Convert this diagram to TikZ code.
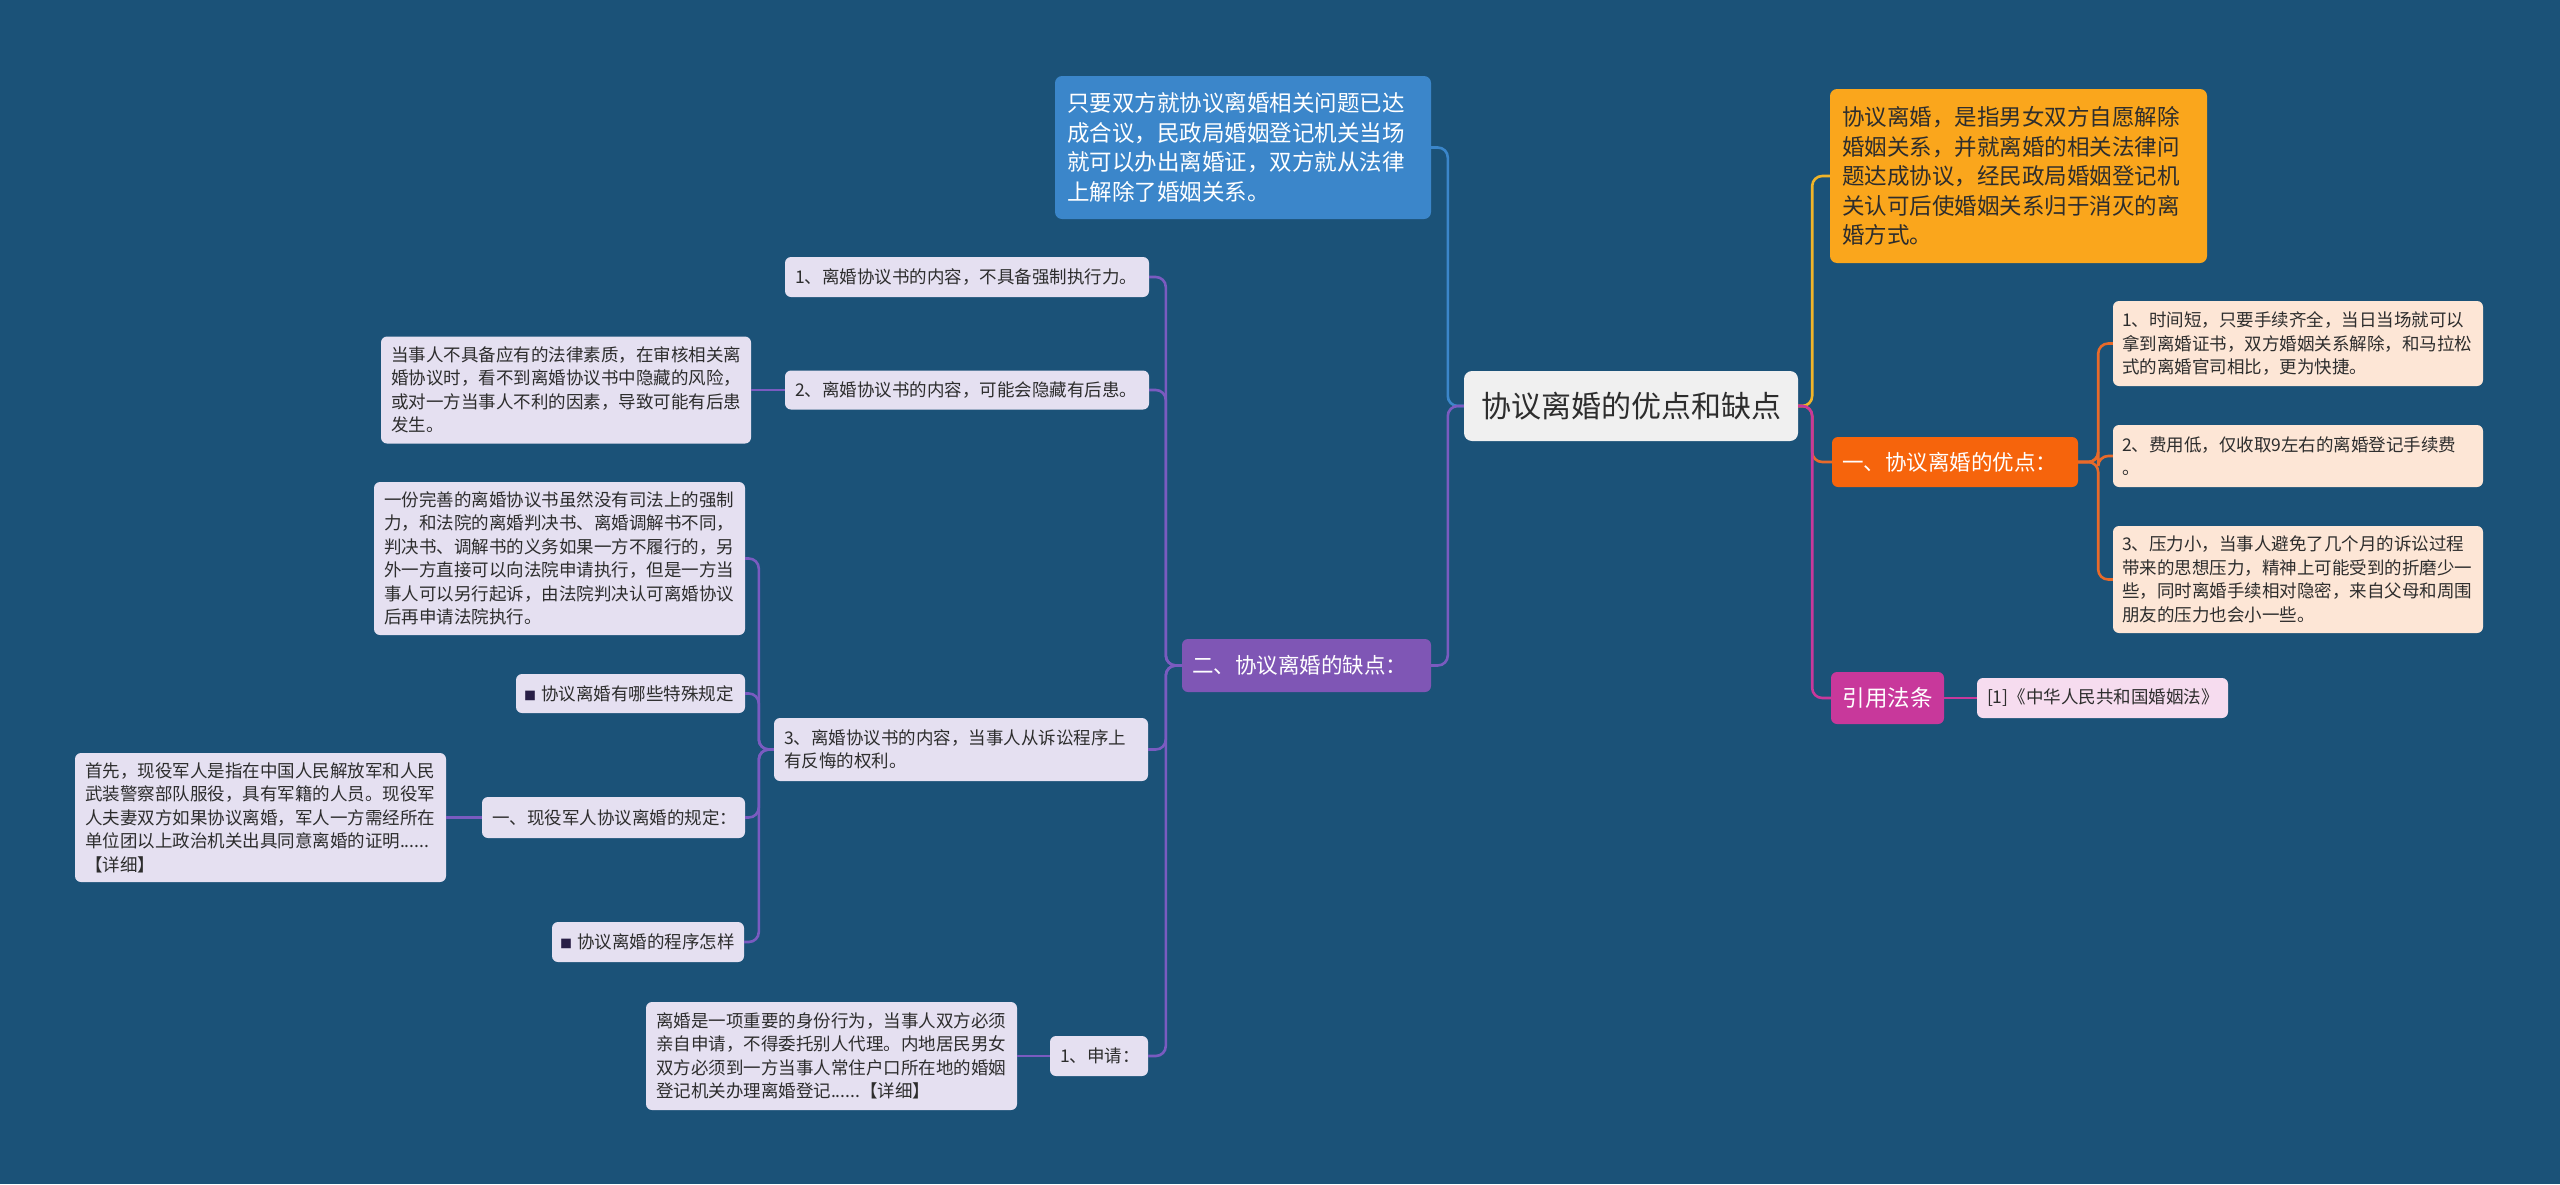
\documentclass[tikz,border=0pt]{standalone}
\usepackage{fontspec}
\setmainfont{Noto Sans CJK SC}
\definecolor{bg}{RGB}{27,82,120}
\definecolor{bluebox}{RGB}{59,134,202}
\definecolor{orangebox}{RGB}{250,166,28}
\definecolor{advbox}{RGB}{246,100,12}
\definecolor{peach}{RGB}{253,230,214}
\definecolor{magbox}{RGB}{200,56,155}
\definecolor{pinkbox}{RGB}{246,220,239}
\definecolor{purbox}{RGB}{127,86,181}
\definecolor{lavbox}{RGB}{229,224,241}
\definecolor{rootbox}{RGB}{240,240,240}
\definecolor{darktext}{RGB}{45,45,45}
\definecolor{lblue}{RGB}{59,134,202}
\definecolor{lyellow}{RGB}{240,180,41}
\definecolor{lorange}{RGB}{232,106,42}
\definecolor{lmag}{RGB}{200,56,155}
\definecolor{lpur}{RGB}{122,91,192}
\definecolor{sq}{RGB}{40,30,70}
\begin{document}
\begin{tikzpicture}[x=1pt,y=-1pt,
  box/.style={rounded corners=6pt, inner xsep=10pt, inner ysep=0pt, align=left, anchor=center},
  bigbox/.style={box, rounded corners=7pt, inner xsep=12pt, font=\fontsize{22.5pt}{29.5pt}\selectfont},
  small/.style={font=\fontsize{17.5pt}{23.5pt}\selectfont},
  lav/.style={box, small, fill=lavbox, text=darktext},
  pea/.style={box, small, fill=peach, text=darktext},
  cat/.style={box, rounded corners=6pt, text=white, font=\fontsize{21.5pt}{26pt}\selectfont},
  conn/.style={line width=2.6pt, rounded corners=10pt}
]
\fill[bg] (0,0) rectangle (2560,1184);
\useasboundingbox (0,0) rectangle (2560,1184);

% root
\node[box, fill=rootbox, text=darktext, rounded corners=8pt, inner xsep=16pt, align=center,
  minimum width=334pt, minimum height=70pt, font=\fontsize{30pt}{36pt}\selectfont] (root) at (1631,406) {协议离婚的优点和缺点};

% top blue
\node[bigbox, fill=bluebox, text=white, text width=352pt, minimum height=143pt] (top) at (1243,147.5)
 {只要双方就协议离婚相关问题已达\\成合议，民政局婚姻登记机关当场\\就可以办出离婚证，双方就从法律\\上解除了婚姻关系。};

% definition orange
\node[bigbox, fill=orangebox, text=darktext, text width=353pt, minimum height=174pt] (def) at (2018.5,176)
 {协议离婚，是指男女双方自愿解除\\婚姻关系，并就离婚的相关法律问\\题达成协议，经民政局婚姻登记机\\关认可后使婚姻关系归于消灭的离\\婚方式。};

% advantages
\node[cat, fill=advbox, text width=226pt, minimum height=50pt] (adv) at (1955,462) {一、协议离婚的优点：};
\node[pea, text width=352pt, minimum height=85pt, inner xsep=9pt] (a1) at (2298,343.5)
 {1、时间短，只要手续齐全，当日当场就可以\\拿到离婚证书，双方婚姻关系解除，和马拉松\\式的离婚官司相比，更为快捷。};
\node[pea, text width=352pt, minimum height=62pt, inner xsep=9pt] (a2) at (2298,456)
 {2、费用低，仅收取9左右的离婚登记手续费\\。};
\node[pea, text width=352pt, minimum height=107pt, inner xsep=9pt] (a3) at (2298,579.5)
 {3、压力小，当事人避免了几个月的诉讼过程\\带来的思想压力，精神上可能受到的折磨少一\\些，同时离婚手续相对隐密，来自父母和周围\\朋友的压力也会小一些。};

% citation
\node[cat, fill=magbox, align=center, inner xsep=11pt, minimum width=113pt, minimum height=52pt, font=\fontsize{22.5pt}{26pt}\selectfont] (cite) at (1887.5,698) {引用法条};
\node[box, small, fill=pinkbox, text=darktext, text width=231pt, minimum height=40pt] (law) at (2102.5,698) {[1]《中华人民共和国婚姻法》};

% disadvantages
\node[cat, fill=purbox, text width=229pt, minimum height=53pt] (er) at (1306.5,665.5) {二、协议离婚的缺点：};
\node[lav, text width=344pt, minimum height=40pt] (d1) at (967,277) {1、离婚协议书的内容，不具备强制执行力。};
\node[lav, text width=344pt, minimum height=39pt] (d2) at (967,390) {2、离婚协议书的内容，可能会隐藏有后患。};
\node[lav, text width=350pt, minimum height=107pt] (d2c) at (566,390)
 {当事人不具备应有的法律素质，在审核相关离\\婚协议时，看不到离婚协议书中隐藏的风险，\\或对一方当事人不利的因素，导致可能有后患\\发生。};
\node[lav, text width=354pt, minimum height=63pt] (d3) at (961,749.5)
 {3、离婚协议书的内容，当事人从诉讼程序上\\有反悔的权利。};
\node[lav, text width=351pt, minimum height=153pt] (d3a) at (559.5,558.5)
 {一份完善的离婚协议书虽然没有司法上的强制\\力，和法院的离婚判决书、离婚调解书不同，\\判决书、调解书的义务如果一方不履行的，另\\外一方直接可以向法院申请执行，但是一方当\\事人可以另行起诉，由法院判决认可离婚协议\\后再申请法院执行。};
\node[lav, text width=213pt, inner xsep=8pt, minimum height=39pt] (d3b) at (630.5,693.5)
 {\mbox{{\color{sq}\fontsize{12pt}{12pt}\selectfont ■}\hspace{5pt}协议离婚有哪些特殊规定}};
\node[lav, text width=243pt, minimum height=41pt] (d3c) at (613.5,817.5) {一、现役军人协议离婚的规定：};
\node[lav, text width=351pt, minimum height=129pt] (d3c1) at (260.5,817.5)
 {首先，现役军人是指在中国人民解放军和人民\\武装警察部队服役，具有军籍的人员。现役军\\人夫妻双方如果协议离婚，军人一方需经所在\\单位团以上政治机关出具同意离婚的证明......\\【详细】};
\node[lav, text width=176pt, inner xsep=8pt, minimum height=40pt] (d3d) at (648,942)
 {\mbox{{\color{sq}\fontsize{12pt}{12pt}\selectfont ■}\hspace{5pt}协议离婚的程序怎样}};
\node[lav, text width=78pt, minimum height=40pt] (d4) at (1099,1056) {1、申请：};
\node[lav, text width=351pt, minimum height=108pt] (d4c) at (831.5,1056)
 {离婚是一项重要的身份行为，当事人双方必须\\亲自申请，不得委托别人代理。内地居民男女\\双方必须到一方当事人常住户口所在地的婚姻\\登记机关办理离婚登记......【详细】};

% connectors: root left
\draw[conn, lblue] (root.west) -- ++(-16,0) |- (top.east);
\draw[conn, lpur] (root.west) -- ++(-16,0) |- (er.east);
% root right
\draw[conn, lyellow] (root.east) -- ++(14,0) |- (def.west);
\draw[conn, lorange] (root.east) -- ++(14,0) |- (adv.west);
\draw[conn, lmag] (root.east) -- ++(14,0) |- (cite.west);
% advantages
\draw[conn, lorange] (adv.east) -- ++(20,0) |- (a1.west);
\draw[conn, lorange] (adv.east) -- ++(20,0) |- (a2.west);
\draw[conn, lorange] (adv.east) -- ++(20,0) |- (a3.west);
% citation
\draw[conn, lmag] (cite.east) -- (law.west);
% disadvantages
\draw[conn, lpur] (er.west) -- ++(-16,0) |- (d1.east);
\draw[conn, lpur] (er.west) -- ++(-16,0) |- (d2.east);
\draw[conn, lpur] (er.west) -- ++(-16,0) |- (d3.east);
\draw[conn, lpur] (er.west) -- ++(-16,0) |- (d4.east);
\draw[conn, lpur] (d2.west) -- (d2c.east);
\draw[conn, lpur] (d3.west) -- ++(-15,0) |- (d3a.east);
\draw[conn, lpur] (d3.west) -- ++(-15,0) |- (d3b.east);
\draw[conn, lpur] (d3.west) -- ++(-15,0) |- (d3c.east);
\draw[conn, lpur] (d3.west) -- ++(-15,0) |- (d3d.east);
\draw[conn, lpur] (d3c.west) -- (d3c1.east);
\draw[conn, lpur] (d4.west) -- (d4c.east);
\end{tikzpicture}
\end{document}
